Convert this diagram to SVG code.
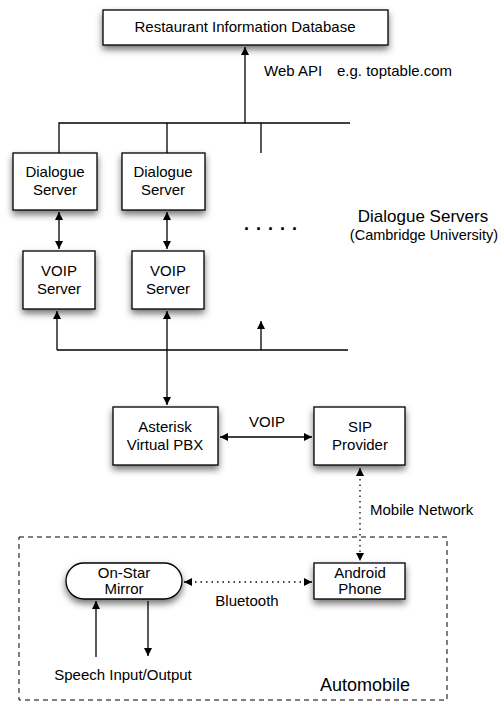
<svg xmlns="http://www.w3.org/2000/svg" width="501" height="702" viewBox="0 0 501 702">
<style>
text{font-family:"Liberation Sans",Arial,sans-serif;fill:#000}
.t{font-size:15px;text-anchor:middle}
.box{fill:#fff;stroke:#000;stroke-width:1.3}
.ln{fill:none;stroke:#000;stroke-width:1.3}
.dot{fill:none;stroke:#000;stroke-width:1.3;stroke-dasharray:1.5 4}
</style>
<defs>
<filter id="sh" x="-20%" y="-20%" width="140%" height="170%">
<feDropShadow dx="0" dy="4" stdDeviation="3.5" flood-color="#000" flood-opacity="0.55"/>
</filter>
<marker id="ah" viewBox="0 0 10 10" refX="10" refY="5" markerWidth="8" markerHeight="8" markerUnits="userSpaceOnUse" orient="auto-start-reverse">
<path d="M0,0L10,5L0,10z" fill="#000"/>
</marker>
</defs>
<rect x="0" y="0" width="501" height="702" fill="#fff"/>

<g id="automobile">
<rect x="19" y="537" width="428" height="163" fill="none" stroke="#000" stroke-width="1" stroke-dasharray="5 4"/>
<text x="365" y="691" style="font-size:18px;text-anchor:middle">Automobile</text>
</g>

<g id="connectors">
<path class="ln" d="M59,153V123H350M167,123V153M261,123V153"/>
<path class="ln" d="M245,123V47" marker-end="url(#ah)"/>
<path class="ln" d="M59,212V249" marker-start="url(#ah)" marker-end="url(#ah)"/>
<path class="ln" d="M167,212V249" marker-start="url(#ah)" marker-end="url(#ah)"/>
<path class="ln" d="M57,350H348"/>
<path class="ln" d="M57,350V311" marker-end="url(#ah)"/>
<path class="ln" d="M167,350V311" marker-end="url(#ah)"/>
<path class="ln" d="M261,350V321" marker-end="url(#ah)"/>
<path class="ln" d="M167,350V405" marker-end="url(#ah)"/>
<path class="ln" d="M220,437H312" marker-start="url(#ah)" marker-end="url(#ah)"/>
<path class="dot" d="M360,468V561" marker-start="url(#ah)" marker-end="url(#ah)"/>
<path class="dot" d="M184,582H312" marker-start="url(#ah)" marker-end="url(#ah)"/>
<path class="ln" d="M96,657V601" marker-end="url(#ah)"/>
<path class="ln" d="M148,601V656" marker-end="url(#ah)"/>
</g>

<g id="labels">
<text x="264" y="76" style="font-size:15px">Web API</text>
<text x="337" y="76" style="font-size:15px">e.g. toptable.com</text>
<text x="423" y="222" style="font-size:17px;text-anchor:middle">Dialogue Servers</text>
<text x="424" y="240" style="font-size:14.5px;text-anchor:middle">(Cambridge University)</text>
<text x="244" y="230" style="font-size:18px;font-weight:bold;letter-spacing:7px">.....</text>
<text x="267" y="427" class="t">VOIP</text>
<text x="370" y="515" style="font-size:15px">Mobile Network</text>
<text x="247" y="606" class="t">Bluetooth</text>
<text x="123" y="680" class="t">Speech Input/Output</text>
</g>

<g id="restaurant-db">
<rect class="box" x="103" y="10" width="285" height="35" filter="url(#sh)"/>
<text class="t" x="245" y="32">Restaurant Information Database</text>
</g>

<g id="dialogue-server-1">
<rect class="box" x="13" y="153" width="84" height="57" filter="url(#sh)"/>
<text class="t" x="55" y="177">Dialogue</text><text class="t" x="55" y="195">Server</text>
</g>
<g id="dialogue-server-2">
<rect class="box" x="122" y="153" width="83" height="57" filter="url(#sh)"/>
<text class="t" x="163" y="177">Dialogue</text><text class="t" x="163" y="195">Server</text>
</g>

<g id="voip-server-1">
<rect class="box" x="23" y="251" width="72" height="58" filter="url(#sh)"/>
<text class="t" x="59" y="276">VOIP</text><text class="t" x="59" y="294">Server</text>
</g>
<g id="voip-server-2">
<rect class="box" x="132" y="251" width="72" height="58" filter="url(#sh)"/>
<text class="t" x="168" y="276">VOIP</text><text class="t" x="168" y="294">Server</text>
</g>

<g id="asterisk">
<rect class="box" x="113" y="407" width="105" height="58" filter="url(#sh)"/>
<text class="t" x="165" y="432">Asterisk</text><text class="t" x="165" y="450">Virtual PBX</text>
</g>
<g id="sip-provider">
<rect class="box" x="314" y="407" width="91" height="58" filter="url(#sh)"/>
<text class="t" x="360" y="432">SIP</text><text class="t" x="360" y="450">Provider</text>
</g>

<g id="on-star-mirror">
<rect class="box" x="66" y="563" width="116" height="36" rx="18" ry="18" filter="url(#sh)"/>
<text class="t" x="124" y="578">On-Star</text><text class="t" x="124" y="594">Mirror</text>
</g>
<g id="android-phone">
<rect class="box" x="314" y="563" width="91" height="36" filter="url(#sh)"/>
<text class="t" x="360" y="578">Android</text><text class="t" x="360" y="594">Phone</text>
</g>
</svg>
